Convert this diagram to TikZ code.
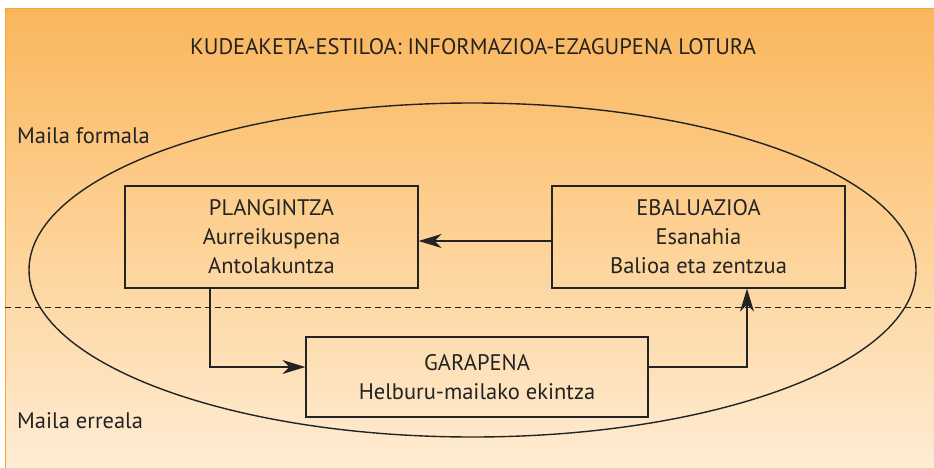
\documentclass[tikz,border=0pt]{standalone}
\usepackage{fontspec}
\setmainfont{PT Sans}
\usetikzlibrary{arrows.meta}
\definecolor{bgtop}{RGB}{250,182,92}
\definecolor{bgmid}{RGB}{253,210,150}
\definecolor{bgbot}{RGB}{254,236,212}
\definecolor{edgeor}{RGB}{246,164,52}
\definecolor{ink}{RGB}{35,35,35}
\tikzset{
  boxnode/.style={draw=ink, line width=1.2pt, rectangle, align=center, text=ink,
    font=\fontsize{22.5}{29}\selectfont, inner sep=0pt},
  lbl/.style={text=ink, font=\fontsize{22.5}{29}\selectfont, inner sep=0pt},
  arr/.style={draw=ink, line width=1.2pt, -{Stealth[length=23pt,width=14pt,inset=7pt]}},
}
\begin{document}
\begin{tikzpicture}[x=1pt,y=-1pt]
\useasboundingbox (0,0) rectangle (934,468);
\shade[top color=bgtop, bottom color=bgbot, middle color=bgmid] (5,9) rectangle (934,468);
\draw[edgeor, line width=1pt] (5,468) -- (5,9) -- (934,9);
\coordinate (dl) at (5,307);
\coordinate (dr) at (934,307);
\draw[ink, line width=1pt, dash pattern=on 6pt off 4pt] (dl) -- (dr);
\draw[ink, line width=1.4pt] (472.5,270) ellipse [x radius=443.5, y radius=167];
\node[lbl, anchor=base] (title) at (473,55) {KUDEAKETA-ESTILOA: INFORMAZIOA-EZAGUPENA LOTURA};
\node[lbl, anchor=base west] (formal) at (17,143) {Maila formala};
\node[lbl, anchor=base west] (erreal) at (17,428) {Maila erreala};
\node[boxnode, minimum width=293pt, minimum height=102pt] (plan) at (271.5,237) {PLANGINTZA\\Aurreikuspena\\Antolakuntza};
\node[boxnode, minimum width=293pt, minimum height=102pt] (ebal) at (698.5,237) {EBALUAZIOA\\Esanahia\\Balioa eta zentzua};
\node[boxnode, minimum width=342pt, minimum height=80pt] (gar) at (477,377) {GARAPENA\\Helburu-mailako ekintza};
\draw[arr] ([yshift=-4pt]ebal.west) -- ([yshift=-4pt]plan.east);
\draw[arr] ([xshift=-61.5pt]plan.south) |- ([yshift=10pt]gar.west);
\draw[arr] ([yshift=10pt]gar.east) -| ([xshift=48.5pt]ebal.south);
\end{tikzpicture}
\end{document}
